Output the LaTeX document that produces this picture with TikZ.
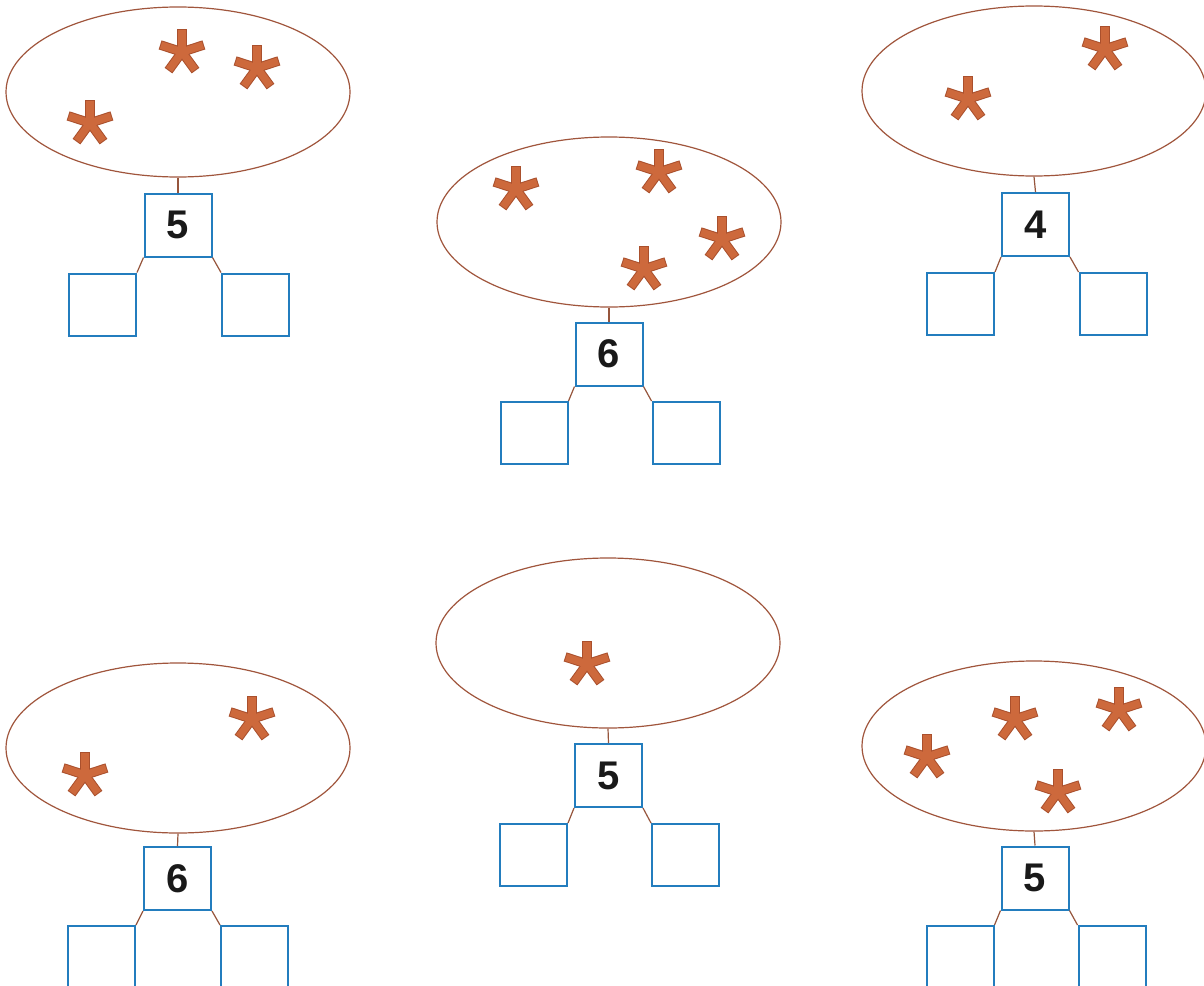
\documentclass[tikz,border=0pt]{standalone}
\usepackage{fontspec}
\setmainfont{Liberation Sans}
\usetikzlibrary{shapes.geometric}
\definecolor{ovalc}{RGB}{160,85,60}
\definecolor{boxc}{RGB}{35,125,190}
\definecolor{astc}{RGB}{205,105,60}
\definecolor{astdark}{RGB}{170,80,45}
\definecolor{linkc}{RGB}{150,85,60}
\tikzset{
  oval/.style={ellipse, draw=ovalc, line width=1.2pt, minimum width=344pt, minimum height=170pt, inner sep=0pt},
  numbox/.style={rectangle, draw=boxc, line width=2pt, minimum width=67pt, minimum height=63pt, inner sep=0pt, font=\fontsize{40}{40}\selectfont\bfseries, text=black!90},
  ansbox/.style={rectangle, draw=boxc, line width=2pt, minimum width=67pt, minimum height=62pt, inner sep=0pt},
  link/.style={draw=linkc, line width=1.2pt},
  ast/.pic={
    \foreach \a in {90,162,234,306,18} {\draw[astdark, line width=9.5pt] (0,0) -- (\a:23pt);}
    \foreach \a in {90,162,234,306,18} {\draw[astc, line width=7.5pt] (0,0) -- (\a:22pt);}
  }
}
\begin{document}
\begin{tikzpicture}[x=1pt,y=-1pt]
\clip (0,0) rectangle (1204,985);
\fill[white] (0,0) rectangle (1204,985);

% group 1
\node[oval] (e1) at (178,92) {};
\node[numbox] (n1) at (178,225) {5};
\node[ansbox] (l1) at (102.5,304.5) {};
\node[ansbox] (r1) at (255.5,304.5) {};
\draw[link] (e1.south) -- (n1.north);
\draw[link] (n1.south west) -- (l1.north east);
\draw[link] (n1.south east) -- (r1.north west);
\pic at (182,52) {ast};
\pic at (257,68) {ast};
\pic at (90,123) {ast};

% group 2
\node[oval] (e2) at (609,222) {};
\node[numbox] (n2) at (609,354) {6};
\node[ansbox] (l2) at (534,433) {};
\node[ansbox] (r2) at (686,433) {};
\draw[link] (e2.south) -- (n2.north);
\draw[link] (n2.south west) -- (l2.north east);
\draw[link] (n2.south east) -- (r2.north west);
\pic at (516,189) {ast};
\pic at (659,172) {ast};
\pic at (722,239) {ast};
\pic at (644,269) {ast};

% group 3
\node[oval] (e3) at (1034,91) {};
\node[numbox] (n3) at (1035.5,224.5) {4};
\node[ansbox] (l3) at (960.5,304) {};
\node[ansbox] (r3) at (1113,304) {};
\draw[link] (e3.south) -- (n3.north);
\draw[link] (n3.south west) -- (l3.north east);
\draw[link] (n3.south east) -- (r3.north west);
\pic at (1105,49) {ast};
\pic at (968,99) {ast};

% group 4
\node[oval] (e4) at (178,748) {};
\node[numbox] (n4) at (177.5,878.5) {6};
\node[ansbox] (l4) at (101.5,957) {};
\node[ansbox] (r4) at (254.5,957) {};
\draw[link] (e4.south) -- (n4.north);
\draw[link] (n4.south west) -- (l4.north east);
\draw[link] (n4.south east) -- (r4.north west);
\pic at (85,775) {ast};
\pic at (252,719) {ast};

% group 5
\node[oval] (e5) at (608,643) {};
\node[numbox] (n5) at (608.5,775.5) {5};
\node[ansbox] (l5) at (533.5,855) {};
\node[ansbox] (r5) at (685.5,855) {};
\draw[link] (e5.south) -- (n5.north);
\draw[link] (n5.south west) -- (l5.north east);
\draw[link] (n5.south east) -- (r5.north west);
\pic at (587,664) {ast};

% group 6
\node[oval] (e6) at (1034,746) {};
\node[numbox] (n6) at (1035,878) {5};
\node[ansbox] (l6) at (960,957) {};
\node[ansbox] (r6) at (1112,957) {};
\draw[link] (e6.south) -- (n6.north);
\draw[link] (n6.south west) -- (l6.north east);
\draw[link] (n6.south east) -- (r6.north west);
\pic at (927,757) {ast};
\pic at (1015,719) {ast};
\pic at (1119,710) {ast};
\pic at (1058,792) {ast};
\end{tikzpicture}
\end{document}
